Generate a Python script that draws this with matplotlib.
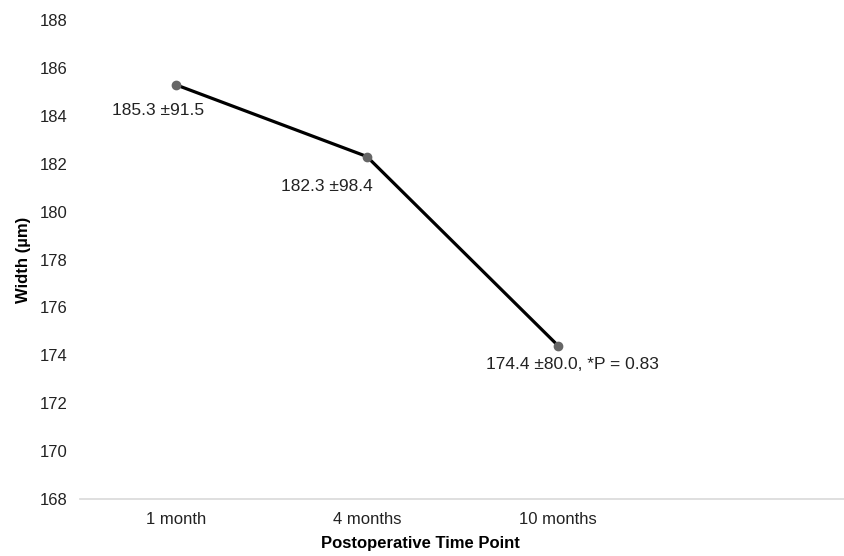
import matplotlib
matplotlib.use("Agg")
import matplotlib.pyplot as plt

categories = ["1 month", "4 months", "10 months", ""]
values = [185.3, 182.3, 174.4]
labels = ["185.3 \u00b191.5", "182.3 \u00b198.4", "174.4 \u00b180.0, *P = 0.83"]
label_offsets = [(-18, -26), (-40, -30), (14, -19)]
yticks = list(range(168, 189, 2))

plt.rcParams['font.family'] = ['Liberation Sans', 'DejaVu Sans']

fig = plt.figure(figsize=(8.45, 5.56), dpi=100)
ax = fig.add_axes([0.0947, 0.1025, 0.9053, 0.8615])

x = list(range(len(values)))
ax.plot(x, values, color='black', linewidth=2.3, zorder=2)
ax.plot(x, values, linestyle='none', marker='o', markersize=6,
        color='#666666', zorder=3)

for xi, v, lab, off in zip(x, values, labels, label_offsets):
    ax.annotate(lab, (xi, v), xytext=off, textcoords='offset pixels',
                ha='center', va='center', fontsize=12.5, color='#222222')

ax.set_xlim(-0.5, 3.5)
ax.set_ylim(168, 188)
ax.set_yticks(yticks)
ax.set_xticks(range(len(categories)))
ax.set_xticklabels(categories)
ax.tick_params(axis='both', length=0, labelsize=12, colors='#222222')
ax.tick_params(axis='x', pad=9)
ax.tick_params(axis='y', pad=9)

for s in ['top', 'right', 'left']:
    ax.spines[s].set_visible(False)
ax.spines['bottom'].set_color('#d9d9d9')
ax.spines['bottom'].set_linewidth(1.2)

ax.set_ylabel("Width (\u00b5m)", fontsize=12, fontweight='bold')
ax.yaxis.set_label_coords((23 - 80) / 765, 0.5)
ax.set_xlabel("Postoperative Time Point", fontsize=12, fontweight='bold')
ax.xaxis.set_label_coords((420 - 80) / 765, -(543 - 499) / 479)
ax.xaxis.label.set_va('center')
ax.yaxis.label.set_va('center')

fig.savefig("out.png", dpi=100)
